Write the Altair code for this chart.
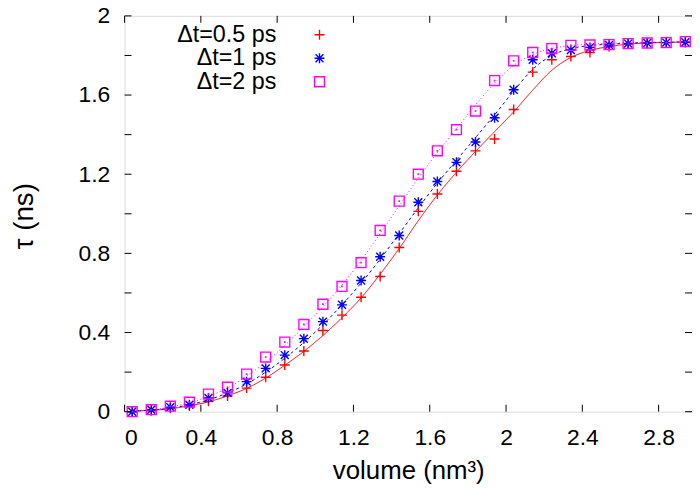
import altair as alt
import pandas as pd

# ---------------- data ----------------
volume = [0.04, 0.14, 0.24, 0.34, 0.44, 0.54, 0.64, 0.74, 0.84, 0.94,
          1.04, 1.14, 1.24, 1.34, 1.44, 1.54, 1.64, 1.74, 1.84, 1.94,
          2.04, 2.14, 2.24, 2.34, 2.44, 2.54, 2.64, 2.74, 2.84, 2.94]

series = ["Δt=0.5 ps", "Δt=1 ps", "Δt=2 ps"]
colors = ["#ff0000", "#0000ff", "#ff00ff"]

# measured points
tau_05 = [0.0, 0.005, 0.017, 0.028, 0.052, 0.079, 0.119, 0.174, 0.236, 0.307,
          0.41, 0.488, 0.578, 0.683, 0.83, 1.012, 1.10, 1.215, 1.318, 1.378,
          1.527, 1.716, 1.778, 1.795, 1.815, 1.845, 1.858, 1.862, 1.865, 1.867]
tau_1 = [0.0, 0.01, 0.023, 0.035, 0.069, 0.095, 0.152, 0.219, 0.286, 0.369,
         0.455, 0.54, 0.663, 0.783, 0.89, 1.058, 1.163, 1.26, 1.363, 1.485,
         1.627, 1.778, 1.811, 1.828, 1.841, 1.853, 1.86, 1.863, 1.865, 1.867]
tau_2 = [0.0, 0.01, 0.028, 0.048, 0.089, 0.124, 0.19, 0.276, 0.352, 0.441,
         0.543, 0.633, 0.753, 0.916, 1.064, 1.20, 1.318, 1.425, 1.519, 1.673,
         1.773, 1.815, 1.835, 1.851, 1.853, 1.855, 1.86, 1.863, 1.865, 1.87]

# fitted curves
fit_05 = [0.003, 0.007, 0.015, 0.03, 0.05, 0.08, 0.118, 0.17, 0.235, 0.305,
          0.385, 0.475, 0.575, 0.695, 0.825, 0.965, 1.095, 1.21, 1.315, 1.415,
          1.515, 1.625, 1.725, 1.79, 1.825, 1.845, 1.857, 1.863, 1.866, 1.868]
fit_1 = [0.003, 0.008, 0.018, 0.035, 0.06, 0.095, 0.14, 0.2, 0.27, 0.35,
         0.44, 0.54, 0.65, 0.77, 0.9, 1.03, 1.155, 1.27, 1.385, 1.5,
         1.62, 1.73, 1.8, 1.835, 1.85, 1.857, 1.862, 1.865, 1.867, 1.868]
fit_2 = [0.004, 0.01, 0.024, 0.045, 0.077, 0.12, 0.18, 0.25, 0.335, 0.43,
         0.53, 0.64, 0.765, 0.9, 1.04, 1.18, 1.31, 1.43, 1.55, 1.66,
         1.75, 1.805, 1.835, 1.85, 1.857, 1.861, 1.864, 1.866, 1.867, 1.868]

x_ticks = [0, 0.4, 0.8, 1.2, 1.6, 2, 2.4, 2.8]
y_labels = [0, 0.4, 0.8, 1.2, 1.6, 2]
y_ticks = [0, 0.2, 0.4, 0.6, 0.8, 1.0, 1.2, 1.4, 1.6, 1.8, 2.0]

# ---------------- tables ----------------
pts = pd.DataFrame({
    "volume": volume * 3,
    "tau": tau_05 + tau_1 + tau_2,
    "series": [series[0]] * 30 + [series[1]] * 30 + [series[2]] * 30,
})
sq = pd.DataFrame({"volume": volume, "tau": tau_2})
fits = [pd.DataFrame({"volume": volume, "tau": f}) for f in (fit_05, fit_1, fit_2)]
xt = pd.DataFrame({"v": x_ticks})
yt = pd.DataFrame({"v": y_ticks})

W, H = 572, 399
FONT = "Liberation Sans"
TL = 7  # tick length

xscale = alt.Scale(domain=[0, 2.975], nice=False, zero=False)
yscale = alt.Scale(domain=[0, 2], nice=False)

xaxis = alt.Axis(values=x_ticks, format="~g", title="volume (nm³)", grid=False,
                 ticks=False, domain=False, labelPadding=15, labelFontSize=23,
                 labelFont=FONT, labelColor="black", titleFontSize=26,
                 titleFont=FONT, titleFontWeight="normal", titleColor="black",
                 titleX=W / 2, titleY=59, titleBaseline="middle")
yaxis = alt.Axis(values=y_labels, format="~g", title="τ (ns)", grid=False,
                 ticks=False, domain=False, labelPadding=15, labelFontSize=23,
                 labelFont=FONT, labelColor="black", titleFontSize=28,
                 titleFont=FONT, titleFontWeight="normal", titleColor="black",
                 titleX=-101, titleY=H / 2 + 2, titleAngle=270,
                 titleAlign="center", titleBaseline="middle")

X = alt.X("volume:Q", scale=xscale, axis=xaxis)
Y = alt.Y("tau:Q", scale=yscale, axis=yaxis)

plus_path = "M-1,0L1,0M0,-1L0,1"
star_path = "M-1,0L1,0M0,-1L0,1M-0.8,-0.8L0.8,0.8M-0.8,0.8L0.8,-0.8"
shapes = [plus_path, star_path, "square"]

layers = []
dashes = [[1, 0], [3, 3], [1, 2.5]]
for f, c, d in zip(fits, colors, dashes):
    layers.append(
        alt.Chart(f).mark_line(color=c, strokeWidth=1, strokeDash=d,
                               interpolate="monotone").encode(x=X, y=Y)
    )

points = alt.Chart(pts).mark_point(filled=False, size=100, strokeWidth=1.4,
                                   opacity=1).encode(
    x=X, y=Y,
    color=alt.Color("series:N", scale=alt.Scale(domain=series, range=colors),
                    legend=None),
    shape=alt.Shape("series:N", scale=alt.Scale(domain=series, range=shapes),
                    legend=None),
)
layers.append(points)
# tiny centre dot of the gnuplot square symbol
layers.append(alt.Chart(sq).mark_point(filled=True, shape="square", size=3,
                                       color=colors[2], opacity=1).encode(x=X, y=Y))

# key (top-left, gnuplot style: right-aligned text, sample to its right)
for i, (s, c, sh) in enumerate(zip(series, colors, shapes)):
    row = pd.DataFrame({"label": [s]})
    ky = 19 + 23.7 * i
    layers.append(alt.Chart(row).mark_text(
        align="right", baseline="middle", fontSize=23.5, font=FONT, color="black"
    ).encode(text="label:N", x=alt.value(153), y=alt.value(ky)))
    layers.append(alt.Chart(row).mark_point(
        filled=False, size=100, strokeWidth=1.4, color=c, shape=sh, opacity=1
    ).encode(x=alt.value(196.5), y=alt.value(ky)))

XT = alt.X("v:Q", scale=xscale, axis=xaxis)
YT = alt.Y("v:Q", scale=yscale, axis=yaxis)
tick_bottom = alt.Chart(xt).mark_rule(color="black", strokeWidth=1).encode(
    x=XT, y=alt.value(H), y2=alt.value(H - TL))
tick_top = alt.Chart(xt).mark_rule(color="black", strokeWidth=1).encode(
    x=XT, y=alt.value(0), y2=alt.value(TL))
tick_left = alt.Chart(yt).mark_rule(color="black", strokeWidth=1).encode(
    y=YT, x=alt.value(0), x2=alt.value(TL))
tick_right = alt.Chart(yt).mark_rule(color="black", strokeWidth=1).encode(
    y=YT, x=alt.value(W), x2=alt.value(W - TL))
layers += [tick_bottom, tick_top, tick_left, tick_right]

chart = alt.layer(*layers).properties(
    width=W, height=H, autosize="none",
    padding={"left": 117.5, "top": 6, "right": 0, "bottom": 78},
).configure_view(stroke="black", strokeWidth=1.2).configure(background="white")

chart.save("out.html", embed_options={"renderer": "svg", "actions": False})
